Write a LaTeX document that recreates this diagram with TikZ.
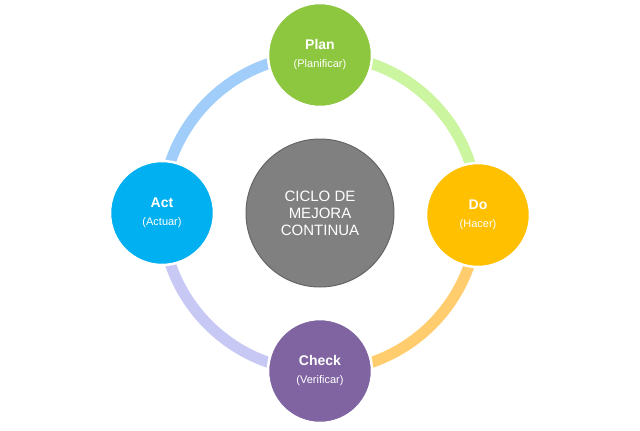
\documentclass[tikz,border=0pt]{standalone}
\usepackage{fontspec}
\setmainfont{Liberation Sans}
\begin{document}
\begin{tikzpicture}[x=1pt,y=-1pt,
  ring/.style={line width=11pt},
  phase/.style={circle,minimum size=104pt,draw=white,line width=2.5pt,text=white,align=center,inner sep=0pt,font=\fontsize{11}{13}\selectfont},
  ttl/.style={font=\bfseries\fontsize{13}{14}\selectfont}]
\useasboundingbox[fill=white] (0,0) rectangle (640,431);
\coordinate (o) at (320,213);
\draw[ring,color={rgb,255:red,204;green,245;blue,160}] (320,55) arc[start angle=90,end angle=0,radius=158pt];
\draw[ring,color={rgb,255:red,255;green,205;blue,110}] (478,213) arc[start angle=0,end angle=-90,radius=158pt];
\draw[ring,color={rgb,255:red,200;green,200;blue,245}] (320,371) arc[start angle=-90,end angle=-180,radius=158pt];
\draw[ring,color={rgb,255:red,160;green,205;blue,250}] (162,213) arc[start angle=180,end angle=90,radius=158pt];
\node[phase,fill=black!50,draw=black!60!white,line width=1pt,minimum size=148pt,font=\fontsize{15}{17}\selectfont] (c) at (o) {CICLO DE\\MEJORA\\CONTINUA};
\node[phase,fill={rgb,255:red,141;green,198;blue,63}] (plan) at (320,55) {{\fontsize{14}{15}\selectfont\bfseries Plan}\\[5pt](Planificar)};
\node[phase,fill={rgb,255:red,255;green,192;blue,0}] (do) at (478,215) {{\fontsize{14}{15}\selectfont\bfseries Do}\\[5pt](Hacer)};
\node[phase,fill={rgb,255:red,128;green,100;blue,162}] (check) at (320,371) {{\fontsize{14}{15}\selectfont\bfseries Check}\\[5pt](Verificar)};
\node[phase,fill={rgb,255:red,0;green,176;blue,240}] (act) at (162,213) {{\fontsize{14}{15}\selectfont\bfseries Act}\\[5pt](Actuar)};
\end{tikzpicture}
\end{document}
